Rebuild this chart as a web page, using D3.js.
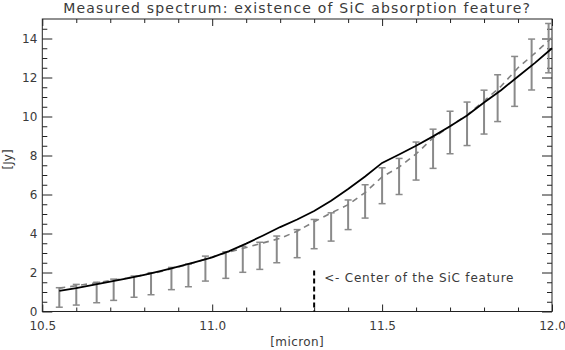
<!DOCTYPE html>
<html>
<meta charset="utf-8">

<head>
    <style>
    body {
        margin: 0;
        background: white;
    }

    text {
        font-family: "DejaVu Sans", sans-serif;
        fill: #3a3a3a;
    }

    .axis line {
        stroke: #222;
    }

    .axis path {
        display: none;
    }

    .frame {
        fill: none;
        stroke: #222;
        stroke-width: 1px;
    }

    .model {
        fill: none;
        stroke: black;
        stroke-width: 1.8px;
    }

    .measured {
        fill: none;
        stroke: #808080;
        stroke-width: 1.6px;
        stroke-dasharray: 6, 5;
    }

    .errbar {
        stroke: #8a8a8a;
        stroke-width: 2px;
    }

    .cap {
        stroke: #8a8a8a;
        stroke-width: 1.5px;
    }
    </style>
</head>

<body>
    <div id='viz'></div>
</body>
<script src="https://cdn.jsdelivr.net/npm/d3@7"></script>

<script>
// error bars (wavelength, lower and upper flux)
const bar_wave = [10.55, 10.60, 10.66, 10.71, 10.77, 10.82, 10.88, 10.93, 10.98, 11.04,
    11.09, 11.14, 11.19, 11.25, 11.30, 11.35, 11.40, 11.45, 11.50, 11.55,
    11.60, 11.65, 11.70, 11.75, 11.80, 11.84, 11.89, 11.94, 11.99];
const bar_low = [0.22, 0.33, 0.45, 0.57, 0.73, 0.86, 1.12, 1.27, 1.56, 1.70,
    2.01, 2.16, 2.50, 2.76, 3.22, 3.61, 4.20, 4.79, 5.53, 6.00,
    6.74, 7.34, 8.09, 8.51, 9.10, 9.74, 10.52, 11.36, 12.24];
const bar_high = [1.22, 1.39, 1.50, 1.66, 1.82, 1.99, 2.26, 2.43, 2.84, 3.06,
    3.34, 3.55, 3.87, 4.20, 4.72, 5.06, 5.72, 6.50, 7.37, 7.85,
    8.69, 9.35, 10.27, 10.74, 11.35, 12.14, 13.08, 13.97, 14.77];

// curves
const line_wave = [10.55, 10.60, 10.65, 10.70, 10.75, 10.80, 10.85, 10.90, 10.95, 11.00,
    11.05, 11.10, 11.15, 11.20, 11.25, 11.30, 11.35, 11.40, 11.45, 11.50,
    11.55, 11.60, 11.65, 11.70, 11.75, 11.80, 11.85, 11.90, 11.95, 12.00];
const model_flux = [1.06, 1.20, 1.37, 1.53, 1.70, 1.88, 2.08, 2.30, 2.53, 2.78,
    3.10, 3.48, 3.90, 4.33, 4.72, 5.15, 5.68, 6.28, 6.92, 7.62,
    8.05, 8.50, 8.98, 9.50, 10.05, 10.72, 11.35, 12.05, 12.75, 13.50];
const measured_flux = [1.20, 1.32, 1.45, 1.58, 1.72, 1.88, 2.05, 2.28, 2.52, 2.80,
    3.05, 3.28, 3.52, 3.75, 4.12, 4.60, 5.05, 5.48, 6.10, 6.90,
    7.40, 8.08, 8.90, 9.50, 10.08, 10.80, 11.55, 12.50, 13.25, 14.05];

const x_major = [10.5, 11.0, 11.5, 12.0];
const y_major = [0, 2, 4, 6, 8, 10, 12, 14];
const sic_center = 11.3;

const width = 565;
const height = 350;
const plot_left = 42.3, plot_right = 552, plot_top = 19, plot_bottom = 311.5;

const x = d3.scaleLinear().domain([10.5, 12.0]).range([plot_left, plot_right]);
const y = d3.scaleLinear().domain([0, 15]).range([plot_bottom, plot_top]);

const svg = d3.select("#viz")
    .append("svg")
    .attr("width", width)
    .attr("height", height);

const x_minor = d3.range(0, 16).map(i => 10.5 + i * 0.1).filter(v => !x_major.some(m => Math.abs(m - v) < 1e-6));
const y_minor = d3.range(0, 31).map(i => i * 0.5).filter(v => v % 2 != 0 && v < 15);

// axes: ticks pointing inward on all four sides
svg.append("g").attr("class", "axis")
    .attr("transform", "translate(0," + plot_bottom + ")")
    .call(d3.axisBottom(x).tickValues(x_major).tickSize(-7).tickPadding(10).tickFormat(d3.format(".1f")))
    .selectAll("text").style("font-size", "12px");
svg.append("g").attr("class", "axis")
    .attr("transform", "translate(0," + plot_bottom + ")")
    .call(d3.axisBottom(x).tickValues(x_minor).tickSize(-4).tickFormat(""));
svg.append("g").attr("class", "axis")
    .attr("transform", "translate(0," + plot_top + ")")
    .call(d3.axisTop(x).tickValues(x_major).tickSize(-7).tickFormat(""));
svg.append("g").attr("class", "axis")
    .attr("transform", "translate(0," + plot_top + ")")
    .call(d3.axisTop(x).tickValues(x_minor).tickSize(-4).tickFormat(""));

svg.append("g").attr("class", "axis")
    .attr("transform", "translate(" + plot_left + ",0)")
    .call(d3.axisLeft(y).tickValues(y_major).tickSize(-10).tickPadding(5))
    .selectAll("text").style("font-size", "12px");
svg.append("g").attr("class", "axis")
    .attr("transform", "translate(" + plot_left + ",0)")
    .call(d3.axisLeft(y).tickValues(y_minor).tickSize(-5).tickFormat(""));
svg.append("g").attr("class", "axis")
    .attr("transform", "translate(" + plot_right + ",0)")
    .call(d3.axisRight(y).tickValues(y_major).tickSize(-10).tickFormat(""));
svg.append("g").attr("class", "axis")
    .attr("transform", "translate(" + plot_right + ",0)")
    .call(d3.axisRight(y).tickValues(y_minor).tickSize(-5).tickFormat(""));

svg.selectAll(".axis text").attr("font-family", null).attr("fill", null);

svg.append("rect")
    .attr("class", "frame")
    .attr("x", plot_left)
    .attr("y", plot_top)
    .attr("width", plot_right - plot_left)
    .attr("height", plot_bottom - plot_top);

// error bars
const bars = bar_wave.map((w, i) => ({ w: w, lo: bar_low[i], hi: bar_high[i] }));

const gbars = svg.append("g");
gbars.selectAll(".errbar")
    .data(bars)
    .enter()
    .append("line")
    .attr("class", "errbar")
    .attr("x1", d => x(d.w))
    .attr("x2", d => x(d.w))
    .attr("y1", d => y(d.lo))
    .attr("y2", d => y(d.hi));

gbars.selectAll(".cap")
    .data(bars.flatMap(d => [{ w: d.w, v: d.lo }, { w: d.w, v: d.hi }]))
    .enter()
    .append("line")
    .attr("class", "cap")
    .attr("x1", d => x(d.w) - 3.5)
    .attr("x2", d => x(d.w) + 3.5)
    .attr("y1", d => y(d.v))
    .attr("y2", d => y(d.v));

const line = d3.line()
    .x(d => x(d[0]))
    .y(d => y(d[1]));

svg.append("path")
    .datum(line_wave.map((w, i) => [w, measured_flux[i]]))
    .attr("class", "measured")
    .attr("d", line);

svg.append("path")
    .datum(line_wave.map((w, i) => [w, model_flux[i]]))
    .attr("class", "model")
    .attr("d", line);

// SiC feature marker
svg.append("line")
    .attr("x1", x(sic_center))
    .attr("x2", x(sic_center))
    .attr("y1", y(2.1))
    .attr("y2", y(0))
    .attr("stroke", "black")
    .attr("stroke-width", 2)
    .attr("stroke-dasharray", "5,3");

svg.append("text")
    .attr("x", x(sic_center) + 10)
    .attr("y", 282)
    .style("font-size", "12px")
    .style("letter-spacing", "0.8px")
    .text("<- Center of the SiC feature");

// titles
svg.append("text")
    .attr("x", (plot_left + plot_right) / 2)
    .attr("y", 13)
    .attr("text-anchor", "middle")
    .style("font-size", "14px")
    .style("letter-spacing", "1.2px")
    .text("Measured spectrum: existence of SiC absorption feature?");

svg.append("text")
    .attr("x", (plot_left + plot_right) / 2)
    .attr("y", 346)
    .attr("text-anchor", "middle")
    .style("font-size", "12px")
    .style("letter-spacing", "0.4px")
    .text("[micron]");

svg.append("text")
    .attr("transform", "translate(12," + (y(7.8)) + ") rotate(-90)")
    .attr("text-anchor", "middle")
    .style("font-size", "12px")
    .text("[Jy]");
</script>

</html>
